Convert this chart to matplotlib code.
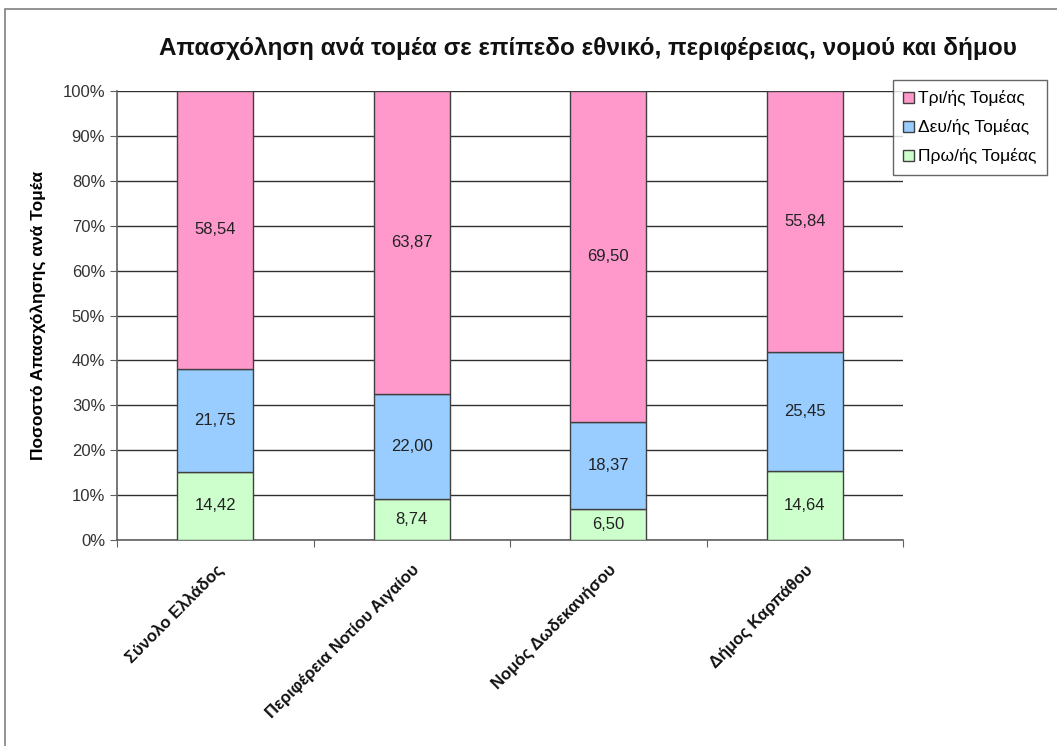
import numpy as np
import matplotlib
matplotlib.use("Agg")
import matplotlib.pyplot as plt
from matplotlib.patches import Rectangle

plt.rcParams['font.family'] = ['Liberation Sans', 'DejaVu Sans']

# Δεδομένα
categories = ["Σύνολο Ελλάδος", "Περιφέρεια Νοτίου Αιγαίου", "Νομός Δωδεκανήσου", "Δήμος Καρπάθου"]
primary = [14.42, 8.74, 6.50, 14.64]
secondary = [21.75, 22.00, 18.37, 25.45]
tertiary = [58.54, 63.87, 69.50, 55.84]
series_names = ["Πρω/ής Τομέας", "Δευ/ής Τομέας", "Τρι/ής Τομέας"]
colors = ["#CCFFCC", "#99CCFF", "#FF99CC"]

raw = np.array([primary, secondary, tertiary])
pct = raw / raw.sum(axis=0) * 100  # 100% stacked

fig = plt.figure(figsize=(10.57, 7.46), dpi=100)
ax = fig.add_axes([117 / 1057, 1 - 540 / 746, 786 / 1057, 449 / 746])

x = np.arange(len(categories))
bottom = np.zeros(len(categories))
bars = []
for i in range(3):
    b = ax.bar(x, pct[i], 0.385, bottom=bottom, color=colors[i], edgecolor="#404040",
               linewidth=1.0, label=series_names[i], zorder=3)
    bars.append(b)
    for j in range(len(categories)):
        ax.text(x[j], bottom[j] + pct[i][j] / 2, f"{raw[i][j]:.2f}".replace(".", ","),
                ha="center", va="center", fontsize=12, color="#222222", zorder=4)
    bottom += pct[i]

ax.set_xlim(-0.5, len(categories) - 0.5)
ax.set_ylim(0, 100)
ax.set_yticks(np.arange(0, 101, 10))
ax.set_yticklabels([f"{v}%" for v in range(0, 101, 10)], fontsize=12, color="#333333")
ax.yaxis.grid(True, color="#303030", linewidth=1.0, zorder=0)
ax.set_axisbelow(True)

ax.set_xticks(np.arange(-0.5, len(categories), 1.0), minor=False)
ax.set_xticklabels([])
ax.set_xticks(x, minor=True)
ax.set_xticklabels(categories, minor=True, rotation=45, ha="right", rotation_mode="anchor",
                   fontsize=12, fontweight="bold", color="#111111")
ax.tick_params(axis="x", which="minor", length=0, pad=16)
ax.tick_params(axis="x", which="major", length=5, color="#606060")
ax.tick_params(axis="y", length=5, color="#606060")

for s in ["top", "right"]:
    ax.spines[s].set_visible(False)
for s in ["left", "bottom"]:
    ax.spines[s].set_color("#606060")
    ax.spines[s].set_linewidth(1.2)

ax.set_ylabel("Ποσοστό Απασχόλησης ανά Τομέα", fontsize=12.5, fontweight="bold", labelpad=12)

fig.text(588 / 1057, 1 - 48 / 746, "Απασχόληση ανά τομέα σε επίπεδο εθνικό, περιφέρειας, νομού και δήμου",
         ha="center", va="center", fontsize=17.5, fontweight="bold", color="#111111")

handles = [bars[2], bars[1], bars[0]]
leg = fig.legend(handles, [series_names[2], series_names[1], series_names[0]],
                 loc="upper left", bbox_to_anchor=(893 / 1057, 1 - 80 / 746),
                 fontsize=12.5, frameon=True, fancybox=False, handlelength=0.6,
                 handleheight=0.6, handletextpad=0.25, labelspacing=0.75,
                 borderpad=0.6, borderaxespad=0)
leg.get_frame().set_edgecolor("#404040")
leg.get_frame().set_linewidth(1.0)

# εξωτερικό πλαίσιο
fig.patches.append(Rectangle((5 / 1057, -0.05), 1.2, 1 - 9 / 746 + 0.05, transform=fig.transFigure,
                             fill=False, edgecolor="#808080", linewidth=1.2))

fig.savefig("out.png", dpi=100)
